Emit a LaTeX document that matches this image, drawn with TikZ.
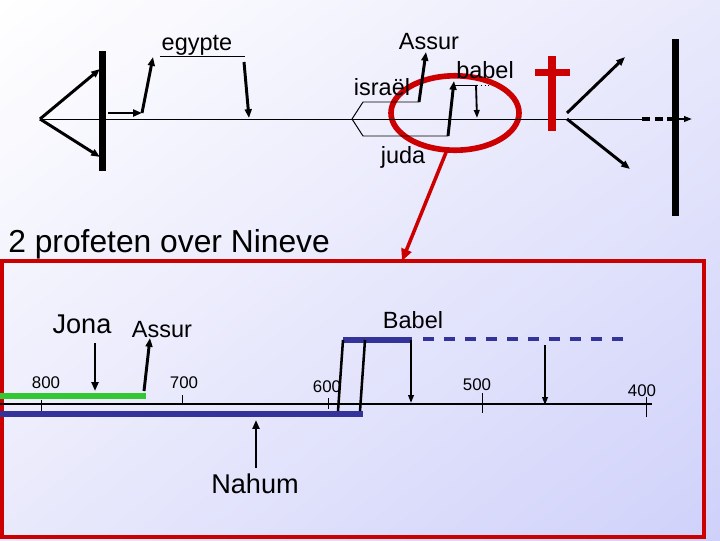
\documentclass[tikz,border=0pt]{standalone}
\usepackage{fontspec}
\setmainfont{Liberation Sans}
\usetikzlibrary{arrows.meta,calc,shadings}
\definecolor{markred}{RGB}{204,0,0}
\definecolor{eranavy}{RGB}{51,51,153}
\definecolor{eragreen}{RGB}{51,200,51}
\definecolor{bgmid}{RGB}{233,233,252}
\definecolor{bgdeep}{RGB}{207,209,250}
\tikzset{
  lbl/.style={font=\fontsize{16.7}{18}\selectfont, inner sep=0pt, anchor=base},
  biglbl/.style={font=\fontsize{19.3}{21}\selectfont, inner sep=0pt, anchor=base},
  yearlbl/.style={font=\fontsize{12}{13}\selectfont, inner sep=0pt, anchor=base},
  arrow/.style={-{Triangle[length=2.2mm,width=1.7mm]}, line width=2.1pt},
  thinarrow/.style={-{Triangle[length=2mm,width=1.4mm]}, line width=1.3pt},
  axis/.style={line width=0.7pt},
  tick/.style={line width=0.6pt},
  erabar/.style={line width=4.8pt},
  wall/.style={fill=black}
}
\begin{document}
\begin{tikzpicture}[x=0.025cm, y=-0.025cm]
  \useasboundingbox (0,0) rectangle (720,540);
  \shade[upper left=white, upper right=bgmid, lower left=bgmid, lower right=bgdeep] (0,0) rectangle (720,540);

  % overview line
  \draw[markred, line width=4pt] (455,113) ellipse [x radius=1.6cm, y radius=0.93cm];
  \draw[axis] (40,119) -- (642,119);
  \draw[line width=2.2pt, dash pattern=on 6pt off 3pt] (642,119) -- (672,119);
  \draw[thinarrow] (679,119) -- (692,119);
  \fill[wall] (99,51) rectangle (106,171);
  \fill[wall] (672,39) rectangle (679,216);
  \coordinate (lapex) at (40,119);
  \draw[arrow] (lapex) -- (100,69);
  \draw[arrow] (lapex) -- (100,157);

  % egypte
  \node[lbl] (egypte) at (197,50) {egypte};
  \coordinate (exodus) at (142,113);
  \draw[arrow] (108,113) -- (exodus);
  \draw[arrow] (exodus) -- (153,57);
  \draw[axis] (160,56) -- (245,56);
  \draw[arrow] (244,62) -- (249,118);

  % israel / juda split
  \node[lbl] (assurtop) at (429,49) {Assur};
  \node[lbl] (israel) at (382,95) {israël};
  \node[lbl] (juda) at (403,163) {juda};
  \node[lbl] (babeltop) at (485,78) {babel};
  \coordinate (split) at (352,119);
  \draw[axis] (split) -- (363,102) -- (419,102);
  \draw[arrow] (419,102) -- (426,52);
  \draw[axis] (split) -- (363,136) -- (448,136);
  \draw[arrow] (448,136) -- (454,81);
  \draw[axis] (454,85) -- (477,85);
  \draw[axis, dotted] (477,85) -- (490,85);
  \draw[thinarrow] (476,85) -- (477,118);

  % cross and spread
  \fill[markred] (548,56) rectangle (556,131);
  \fill[markred] (535,69) rectangle (570,76);
  \draw[arrow] (567,113) -- (625,57);
  \draw[arrow] (567,119) -- (630,169);

  % zoom pointer
  \draw[markred, line width=2.5pt, -{Triangle[length=3mm,width=2.6mm]}] (447,150) -- (402,261);

  \node[font=\fontsize{22.6}{24}\selectfont, inner sep=0pt, anchor=base west] (title) at (8,252) {2 profeten over Nineve};
  \draw[markred, line width=3pt] (2,261) rectangle (704,537);

  % detail timeline
  \draw[line width=1.4pt] (0,404) -- (652,404);
  \draw[tick] (41,400) -- (41,412);
  \draw[tick] (182,395) -- (182,404);
  \draw[tick] (328,398) -- (328,409);
  \draw[tick] (482,393) -- (482,413);
  \draw[tick] (646,397) -- (646,417);
  \node[yearlbl] (y800) at (46,388) {800};
  \node[yearlbl] (y700) at (184,388) {700};
  \node[yearlbl] (y600) at (327,392) {600};
  \node[yearlbl] (y500) at (477,390) {500};
  \node[yearlbl] (y400) at (642,396) {400};

  \draw[erabar, eragreen] (0,396) -- (146,396);
  \draw[erabar, eranavy] (0,414) -- (363,414);
  \draw[line width=4pt, eranavy] (343,340) -- (412,340);
  \draw[line width=3.5pt, eranavy, dash pattern=on 7.8pt off 7.1pt] (423,339) -- (623,339);

  \node[biglbl] (jona) at (82,333) {Jona};
  \node[lbl] (assur) at (162,337) {Assur};
  \node[lbl] (babel) at (413,328) {Babel};
  \node[biglbl] (nahum) at (255,493) {Nahum};
  \draw[arrow] (95,343) -- (95,391);
  \draw[arrow] (144,391) -- (150,338);
  \draw[arrow] (256,468) -- (256,420);
  \draw[line width=1.8pt] (338,411) -- (343,340);
  \draw[line width=1.8pt] (360,411) -- (365,340);
  \draw[thinarrow] (411,340) -- (411,403);
  \draw[thinarrow] (545,345) -- (545,405);
\end{tikzpicture}
\end{document}
